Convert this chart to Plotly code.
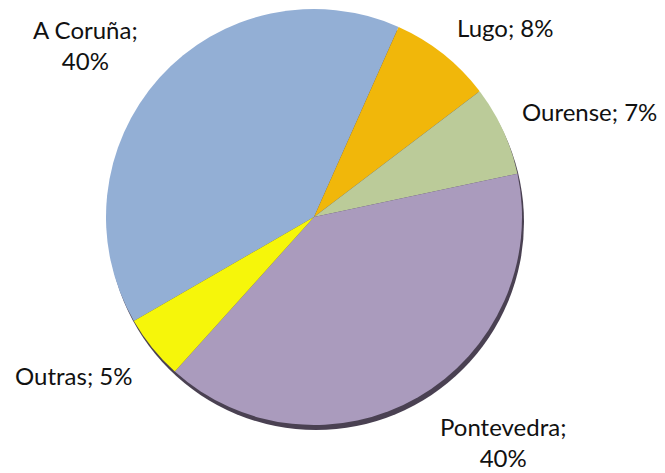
import plotly.graph_objects as go

# share of the total by province
provinces = ["A Coruña", "Lugo", "Ourense", "Pontevedra", "Outras"]
shares = [40, 8, 7, 40, 5]
colors = ["#93AFD5", "#F1B70A", "#BBCB99", "#AA9BBD", "#F6F60A"]

# page is 665x473, the body keeps its default 8px margin at top/left
PAGE_W, PAGE_H, OFF = 665, 473, 8
W, H = PAGE_W - OFF, PAGE_H - OFF

# pie geometry in page pixels
cx, cy, r = 314, 217, 208

# label anchor points (page px) and whether the percent goes on a second line
label_pos = {
    "A Coruña": (85, 45, True),
    "Lugo": (505, 27, False),
    "Ourense": (589, 112, False),
    "Pontevedra": (503, 442, True),
    "Outras": (73, 375, False),
}


def px(x):
    return (x - OFF) / W


def py(y):
    return 1 - (y - OFF) / H


def clamp(v):
    return min(1.0, max(0.0, v))


def dom(x0, y0, rad):
    return dict(x=[clamp(px(x0 - rad)), clamp(px(x0 + rad))],
                y=[clamp(py(y0 + rad)), clamp(py(y0 - rad))])


fig = go.Figure()

# dark shadow under the lower rim
fig.add_trace(go.Pie(
    values=[sum(shares)],
    marker=dict(colors=["#4A4152"], line=dict(width=0)),
    domain=dom(cx + 2, cy + 5, r),
    textinfo="none", hoverinfo="skip", sort=False, showlegend=False,
))

fig.add_trace(go.Pie(
    labels=provinces,
    values=shares,
    marker=dict(colors=colors, line=dict(width=0)),
    domain=dom(cx, cy, r),
    sort=False,
    direction="clockwise",
    rotation=240,
    textinfo="none",
    showlegend=False,
))

for name, val in zip(provinces, shares):
    lx, ly, two = label_pos[name]
    sep = ";<br>" if two else "; "
    fig.add_annotation(
        x=px(lx), y=py(ly), xref="paper", yref="paper",
        text=f"{name}{sep}{val}%",
        showarrow=False, xanchor="center", yanchor="middle",
        font=dict(family="Lato, Liberation Sans, sans-serif", size=24, color="#111111"),
    )

fig.update_layout(
    width=W, height=H,
    margin=dict(l=0, r=0, t=0, b=0),
    paper_bgcolor="white",
    plot_bgcolor="white",
    showlegend=False,
)

fig.write_html("out.html")
